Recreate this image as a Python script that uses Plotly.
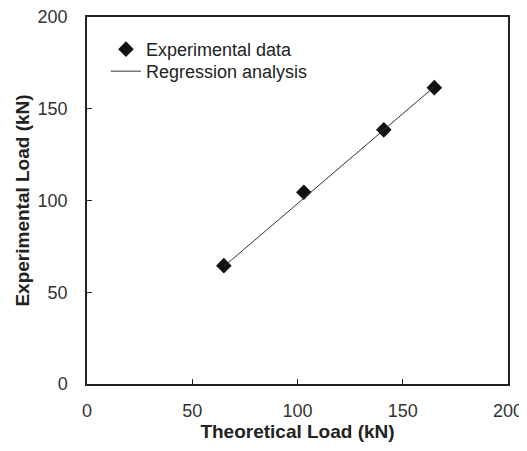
import plotly.graph_objects as go

# Data
theoretical = [65, 103, 141, 165]
experimental = [64.5, 104.5, 138.5, 161.5]
reg_x = [65, 165]
reg_y = [64.0, 162.0]
tick_vals = [0, 50, 100, 150, 200]

FONT = "Liberation Sans, Arial, sans-serif"

fig = go.Figure()
fig.add_trace(go.Scatter(
    x=theoretical, y=experimental, mode="markers", name="Experimental data",
    marker=dict(symbol="diamond", size=12, color="#111111"), legend="legend",
))
fig.add_trace(go.Scatter(
    x=reg_x, y=reg_y, mode="lines", name="Regression analysis",
    line=dict(color="#333333", width=1), legend="legend2",
))

axis_common = dict(
    range=[0, 200], tickvals=tick_vals, ticks="inside", ticklen=5,
    tickcolor="#222222", showline=True, linecolor="#222222", linewidth=1.5,
    mirror=True, showgrid=False, zeroline=False, automargin=False,
    ticklabeloverflow="allow",
    tickfont=dict(family=FONT, size=18, color="#333333"),
)

legend_common = dict(xanchor="left", yanchor="top", bgcolor="rgba(0,0,0,0)",
                     font=dict(family=FONT, size=18, color="#222222"), itemwidth=30)

# page body has an 8px margin, so the figure is sized to fit the 527x451 window
fig.update_layout(
    width=519, height=443,
    margin=dict(l=79, r=19, t=9, b=67),
    paper_bgcolor="white", plot_bgcolor="white",
    showlegend=True,
    legend=dict(x=0.045, y=0.962, **legend_common),
    legend2=dict(x=0.045, y=0.902, **legend_common),
    xaxis=dict(**axis_common, ticklabelstandoff=10,
               title=dict(text="<b>Theoretical Load (kN)</b>", standoff=3,
                          font=dict(family=FONT, size=19, color="#222222"))),
    yaxis=dict(**axis_common, ticklabelstandoff=14,
               title=dict(text="<b>Experimental Load (kN)</b>", standoff=3,
                          font=dict(family=FONT, size=19, color="#222222"))),
)

fig.write_html("out.html")
